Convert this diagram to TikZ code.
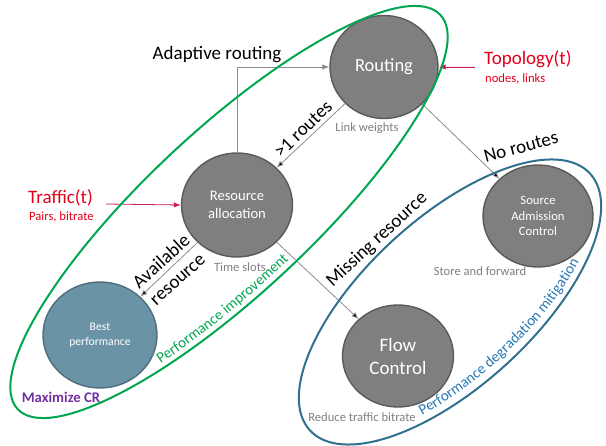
\documentclass[tikz,border=0pt]{standalone}
\usepackage{fontspec}
\setmainfont{Carlito}
\usetikzlibrary{arrows.meta,shapes.geometric,decorations.text}
\definecolor{statefill}{HTML}{7F7F7F}
\definecolor{stateline}{HTML}{5A5A5A}
\definecolor{bestfill}{HTML}{6A93A6}
\definecolor{bestline}{HTML}{4F6E7D}
\definecolor{linkgray}{HTML}{8C8C8C}
\definecolor{notegray}{HTML}{7F7F7F}
\definecolor{inred}{HTML}{E3001B}
\definecolor{inarrow}{HTML}{C8244F}
\definecolor{improvegreen}{HTML}{00A650}
\definecolor{mitigblue}{HTML}{31708F}
\definecolor{mitigtext}{HTML}{2878B5}
\definecolor{crpurple}{HTML}{7030A0}

\begin{document}
\begin{tikzpicture}[x=1pt,y=-1pt,
    state/.style={ellipse,draw=stateline,fill=statefill,line width=1.4pt,text=white,
      minimum width=110pt,minimum height=103pt,inner sep=0pt,align=center},
    note/.style={text=notegray,font=\fontsize{12.6}{15}\selectfont},
    lbl/.style={font=\fontsize{19}{24}\selectfont,align=center},
    feedtext/.style={text=inred,anchor=west,inner sep=0pt},
    flow/.style={draw=linkgray,line width=0.8pt,-{Latex[length=7pt,width=5.5pt]}},
    feed/.style={flow,draw=inarrow,fill=inarrow}]
  \useasboundingbox (0,0) rectangle (606,446);

  \node[state,font=\fontsize{18.5}{22}\selectfont,minimum width=108pt] (routing) at (384,67) {Routing};
  \node[state,font=\fontsize{14.6}{18}\selectfont,minimum width=111pt,minimum height=104pt] (alloc) at (237,205) {Resource\\allocation};
  \node[state,font=\fontsize{12.7}{15.5}\selectfont,minimum height=102pt] (admission) at (538,216) {Source\\Admission\\Control};
  \node[state,font=\fontsize{19}{23}\selectfont,minimum width=111pt,minimum height=102pt] (flowctl) at (398,356) {Flow\\Control};
  \node[state,fill=bestfill,draw=bestline,font=\fontsize{11.7}{14.5}\selectfont,
        minimum width=114pt,minimum height=106pt] (best) at (100,335) {Best\\performance};

  % inputs
  \node[feedtext,font=\fontsize{19}{22}\selectfont] (topo) at (484,59) {Topology(t)};
  \node[feedtext,font=\fontsize{12.6}{15}\selectfont] (topolist) at (485,79) {nodes, links};
  \node[feedtext,font=\fontsize{19}{22}\selectfont] (traffic) at (28,198) {Traffic(t)};
  \node[feedtext,font=\fontsize{12.6}{15}\selectfont] (trafficlist) at (29,217) {Pairs, bitrate};
  \coordinate (topoin) at (475,67);
  \coordinate (trafficin) at (106,204);

  \path[flow]
    (routing) edge (alloc)
              edge (admission)
    (alloc) edge (best)
            edge (flowctl);
  \draw[flow] (alloc.north) |- (routing.west);
  \draw[feed] (topoin) -- (routing.east);
  \draw[feed] (trafficin) -- (alloc.west);

  % edge labels
  \node[lbl] at (217,55) {Adaptive routing};
  \node[lbl,rotate=44] at (303,129) {>1 routes};
  \node[lbl,rotate=15] at (521,147) {No routes};
  \node[lbl,rotate=42] at (169,270) {Available\\resource};
  \node[lbl,rotate=43] at (377,240) {Missing resource};

  \node[note] at (367,128) {Link weights};
  \node[note] at (240,267) {Time slots};
  \node[note] at (480,271) {Store and forward};
  \node[note] at (362,417) {Reduce traffic bitrate};

  % groups
  \draw[improvegreen,line width=2pt,rotate around={43:(229,212)}]
    (229,212) ellipse [x radius=289,y radius=82];
  \draw[mitigblue,line width=2pt,rotate around={42.5:(450,302)}]
    (450,302) ellipse [x radius=190,y radius=84];
  \path[rotate around={43:(229,212)},decorate,
        decoration={text along path,text align=center,
          text={|\fontsize{15}{18}\selectfont\color{improvegreen}|Performance improvement}}]
    (229,212) ++(133:288 and 76) arc [start angle=133,end angle=79,x radius=288,y radius=76];
  \path[rotate around={42.5:(450,302)},decorate,
        decoration={text along path,text align=center,
          text={|\fontsize{15}{18}\selectfont\color{mitigtext}|Performance degradation mitigation}}]
    (450,302) ++(128:188 and 76) arc [start angle=128,end angle=42,x radius=188,y radius=76];
  \node[text=crpurple,font=\bfseries\fontsize{14.7}{17}\selectfont] at (61,397) {Maximize CR};
\end{tikzpicture}
\end{document}
